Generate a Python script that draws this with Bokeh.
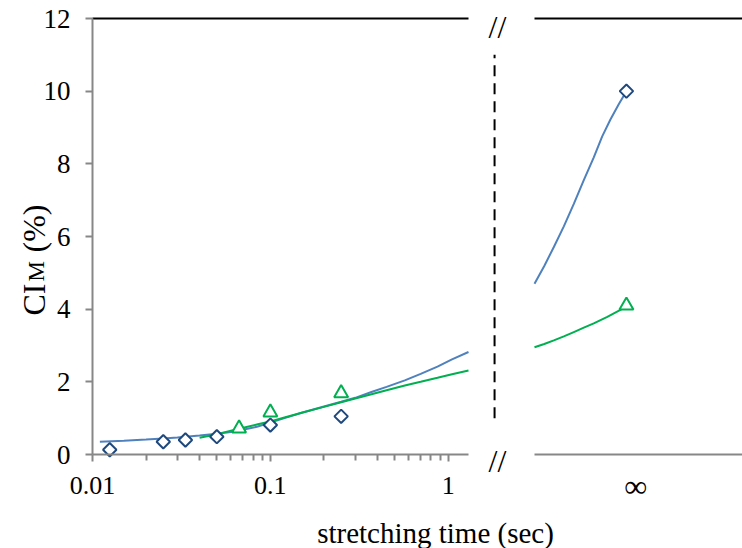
import math
from bokeh.plotting import figure
from bokeh.models import Range1d, LinearAxis, LinearScale, FixedTicker, Label
from bokeh.embed import file_html
from bokeh.resources import INLINE

# ---------------- data ----------------
blue_t = [0.0125, 0.025, 0.0333, 0.05, 0.1, 0.25]
blue_ci = [0.13, 0.35, 0.40, 0.49, 0.81, 1.05]
green_t = [0.0667, 0.1, 0.25]
green_ci = [0.72, 1.16, 1.69]
blue_inf_ci = 10.0
green_inf_ci = 4.1

blue_fit_t = [0.011, 0.015, 0.02, 0.025, 0.03, 0.04, 0.05, 0.06, 0.07, 0.085, 0.1,
              0.12, 0.15, 0.2, 0.25, 0.3, 0.37, 0.45, 0.57, 0.7, 0.87, 1.05, 1.3]
blue_fit_ci = [0.35, 0.38, 0.41, 0.44, 0.47, 0.52, 0.57, 0.62, 0.68, 0.77, 0.88,
               1.00, 1.15, 1.32, 1.45, 1.56, 1.72, 1.86, 2.04, 2.22, 2.42, 2.62, 2.82]
green_fit_t = [0.04, 0.05, 0.0667, 0.085, 0.1, 0.12, 0.15, 0.2, 0.25, 0.3, 0.37,
               0.45, 0.57, 0.7, 0.87, 1.05, 1.3]
green_fit_ci = [0.46, 0.56, 0.71, 0.83, 0.91, 1.02, 1.15, 1.31, 1.44, 1.54, 1.66,
                1.77, 1.90, 2.00, 2.11, 2.21, 2.31]

# right-hand (infinite time) panel: position along that panel (0 = panel start)
blue_right_pos = [0.0, 0.047, 0.093, 0.141, 0.189, 0.237, 0.285, 0.325, 0.365, 0.405, 0.442]
blue_right_ci = [4.70, 5.19, 5.71, 6.28, 6.90, 7.55, 8.18, 8.75, 9.22, 9.64, 10.0]
green_right_pos = [0.0, 0.047, 0.093, 0.141, 0.189, 0.237, 0.285, 0.35, 0.413, 0.442]
green_right_ci = [2.95, 3.04, 3.14, 3.25, 3.37, 3.49, 3.61, 3.79, 3.98, 4.10]
inf_pos = 0.442
inf_label_pos = 0.486

x_ticks = [0.01, 0.1, 1]
x_tick_labels = ["0.01", "0.1", "1"]
x_minor = [0.02, 0.03, 0.04, 0.05, 0.06, 0.07, 0.08, 0.09,
           0.2, 0.3, 0.4, 0.5, 0.6, 0.7, 0.8, 0.9]
y_ticks = [0, 2, 4, 6, 8, 10, 12]
x_lo, x_hi = 0.01, 1.3
y_lo, y_hi = 0, 12

# ---------------- layout constants (pixels) ----------------
W, H = 742, 548
PLOT_L, PLOT_T, PLOT_B = 92, 18, 454      # left panel frame
LEFT_R = 468                               # end of log panel
RIGHT_L = 534                              # start of infinity panel
RIGHT_UNIT = 208                           # px per unit of infinity-panel position

ppd = (LEFT_R - PLOT_L) / (math.log10(x_hi) - math.log10(x_lo))
x_start = 10 ** (math.log10(x_lo) - PLOT_L / ppd)
x_end = 10 ** (math.log10(x_lo) + (W - PLOT_L) / ppd)
ppu = (PLOT_B - PLOT_T) / (y_hi - y_lo)
y_start = y_lo - (H - PLOT_B) / ppu
y_end = y_hi + PLOT_T / ppu
r_start = -RIGHT_L / RIGHT_UNIT
r_end = (W - RIGHT_L) / RIGHT_UNIT
break_pos = -0.192
slash_pos = -0.178

FONT = "Liberation Serif"
GRAY = "#878787"
BLUE_LINE = "#4F81BD"
BLUE_MARK = "#1F497D"
GREEN = "#00B050"

p = figure(width=W, height=H, x_axis_type="log", title=None,
           x_axis_location=None, y_axis_location=None,
           x_range=Range1d(x_start, x_end), y_range=Range1d(y_start, y_end),
           output_backend="svg", toolbar_location=None,
           min_border_left=0, min_border_top=0, min_border_bottom=0,
           min_border_right=0, outline_line_color=None)
p.extra_x_ranges = {"r": Range1d(r_start, r_end)}
p.extra_x_scales = {"r": LinearScale()}
p.grid.visible = False
p.background_fill_color = "white"
p.border_fill_color = "white"

# y axis
yax = LinearAxis(ticker=FixedTicker(ticks=y_ticks), bounds=(y_lo, y_hi),
                 fixed_location=x_lo)
yax.axis_line_color = GRAY
yax.axis_line_width = 2
yax.major_tick_line_color = GRAY
yax.major_tick_line_width = 2
yax.major_tick_out = 7
yax.major_tick_in = 0
yax.minor_tick_line_color = None
yax.major_label_text_font = FONT
yax.major_label_text_font_size = "27px"
yax.major_label_text_color = "black"
yax.major_label_standoff = 15
p.add_layout(yax, "left")

# log x axis (left panel)
xax = LinearAxis(ticker=FixedTicker(ticks=x_ticks, minor_ticks=x_minor),
                 bounds=(x_lo, x_hi), fixed_location=y_lo,
                 major_label_overrides=dict(zip(x_ticks, x_tick_labels)))
xax.axis_line_color = GRAY
xax.axis_line_width = 2
xax.major_tick_line_color = GRAY
xax.major_tick_line_width = 2
xax.minor_tick_line_color = GRAY
xax.minor_tick_line_width = 2
xax.major_tick_out = 7
xax.major_tick_in = 0
xax.minor_tick_out = 6
xax.minor_tick_in = 0
xax.major_label_text_font = FONT
xax.major_label_text_font_size = "26px"
xax.major_label_text_color = "black"
xax.major_label_standoff = 15
p.add_layout(xax, "below")

# right panel bottom line
rax = LinearAxis(x_range_name="r", ticker=FixedTicker(ticks=[]),
                 bounds=(0, r_end), fixed_location=y_lo)
rax.axis_line_color = GRAY
rax.axis_line_width = 2
rax.major_tick_out = 0
rax.minor_tick_out = 0
rax.major_label_text_font_size = "0px"
p.add_layout(rax, "below")

# top black lines
for rng, bnds in ((None, (x_lo, x_hi)), ("r", (0, r_end))):
    kw = {"x_range_name": rng} if rng else {}
    tax = LinearAxis(ticker=FixedTicker(ticks=[]), bounds=bnds,
                     fixed_location=y_hi, **kw)
    tax.axis_line_color = "black"
    tax.axis_line_width = 2
    tax.major_tick_out = 0
    tax.minor_tick_out = 0
    tax.major_label_text_font_size = "0px"
    p.add_layout(tax, "above")

# fitted curves
p.line(blue_fit_t, blue_fit_ci, line_color=BLUE_LINE, line_width=2)
p.line(green_fit_t, green_fit_ci, line_color=GREEN, line_width=2)
p.line(blue_right_pos, blue_right_ci, line_color=BLUE_LINE, line_width=2, x_range_name="r")
p.line(green_right_pos, green_right_ci, line_color=GREEN, line_width=2, x_range_name="r")

# axis-break marker
p.line([break_pos, break_pos], [1.0, 11.0], line_color="black", line_width=2,
       line_dash="11 7", x_range_name="r")

# markers
p.scatter(blue_t, blue_ci, marker="square", angle=math.pi / 4, size=9.5,
          line_color=BLUE_MARK, line_width=2, fill_color="white")
p.scatter(green_t, green_ci, marker="triangle", size=14,
          line_color=GREEN, line_width=2, fill_color="white")
p.scatter([inf_pos], [blue_inf_ci], marker="square", angle=math.pi / 4, size=9.5,
          line_color=BLUE_MARK, line_width=2, fill_color="white", x_range_name="r")
p.scatter([inf_pos], [green_inf_ci], marker="triangle", size=14,
          line_color=GREEN, line_width=2, fill_color="white", x_range_name="r")

# text annotations
for yv, off in ((y_hi, -8), (y_lo, -6)):
    p.add_layout(Label(x=slash_pos, y=yv, x_range_name="r", y_offset=off, text="//",
                       text_font=FONT, text_font_size="32px", text_color="black",
                       text_align="center", text_baseline="alphabetic"))
p.add_layout(Label(x=inf_label_pos, y=y_lo, x_range_name="r", y_offset=-31, text="∞",
                   text_font=FONT, text_font_size="32px", text_color="black",
                   text_align="center", text_baseline="alphabetic"))

p.add_layout(Label(x=435, y=H - 532, x_units="screen", y_units="screen",
                   text="stretching time (sec)", text_font=FONT,
                   text_font_size="29px", text_color="black",
                   text_align="center", text_baseline="alphabetic"))

p.add_layout(Label(x=33, y=H - 315, x_units="screen", y_units="screen", angle=math.pi / 2,
                   text="CI", text_font=FONT, text_font_size="32px", text_color="black",
                   text_align="left", text_baseline="alphabetic"))
p.add_layout(Label(x=36, y=H - 281, x_units="screen", y_units="screen", angle=math.pi / 2,
                   text="M", text_font=FONT, text_font_size="23px", text_color="black",
                   text_align="left", text_baseline="alphabetic"))
p.add_layout(Label(x=33, y=H - 252, x_units="screen", y_units="screen", angle=math.pi / 2,
                   text="(%)", text_font=FONT, text_font_size="32px", text_color="black",
                   text_align="left", text_baseline="alphabetic"))

open("out.html", "w").write(file_html(p, INLINE))
